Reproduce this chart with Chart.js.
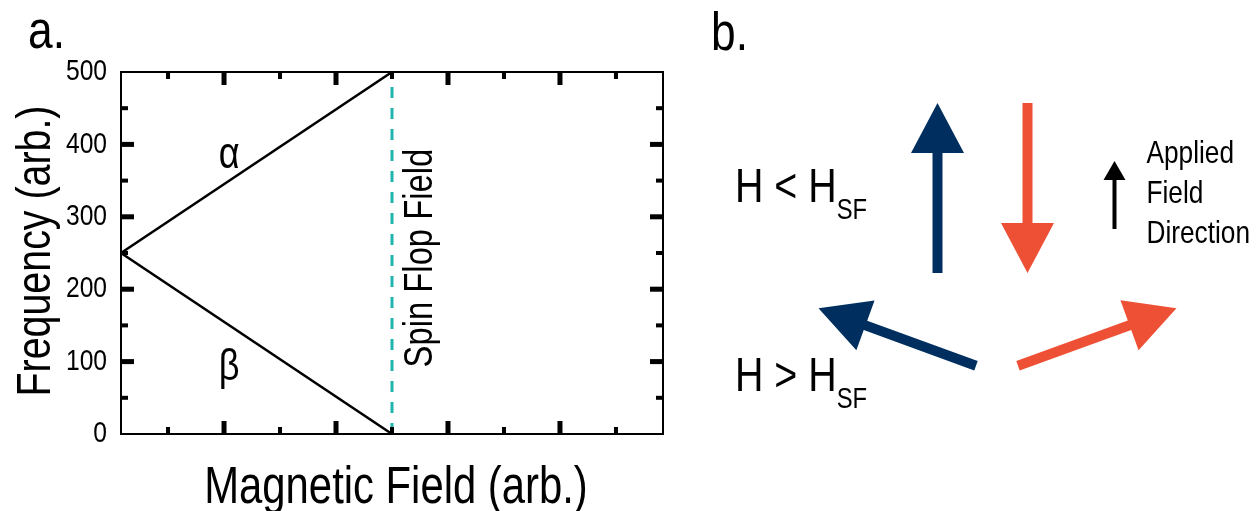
<!DOCTYPE html>
<html>
<head>
<meta charset="utf-8">
<script src="https://cdn.jsdelivr.net/npm/chart.js@4.4.1/dist/chart.umd.min.js"></script>
<style>
  html, body { margin: 0; padding: 0; background: #ffffff; }
  #wrap { position: relative; width: 1257px; height: 511px; overflow: hidden; background: #ffffff; }
  #spectrum { position: absolute; left: 0; top: 0; }
  #spins { position: absolute; left: 700px; top: 0; }
</style>
</head>
<body>
<div id="wrap">
  <canvas id="spectrum" width="700" height="511"></canvas>
  <canvas id="spins" width="557" height="511"></canvas>
</div>
<script>
// ---- Panel a: resonance branches up to the spin-flop field ----
const fieldValues = [0.08, 2.5];          // magnetic field (arb.)
const alphaValues = [250, 500];           // α branch frequency (arb.)
const betaValues = [250, 0];              // β branch frequency (arb.)
const spinFlopField = 2.5;
const fieldRange = [0.08, 4.92];
const frequencyRange = [0, 500];
const frequencyTickStep = 100;
const frequencyMajorTicks = [100, 200, 300, 400];
const frequencyMinorTicks = [50, 150, 250, 350, 450];
const fieldMajorTicks = [1, 2, 3, 4];
const fieldMinorTicks = [0.5, 1.5, 2.5, 3.5, 4.5];

// ---- Panel b: sublattice moments, diagram units [tailX, tailY, tipX, tipY] ----
const lowFieldUp = [4.35, 4.95, 4.35, 9.2];
const lowFieldDown = [6.15, 9.2, 6.15, 4.95];
const highFieldLeft = [5.12, 2.63, 1.97, 4.07];
const highFieldRight = [5.96, 2.63, 9.13, 4.07];
const appliedFieldArrow = [7.89, 6.05, 7.89, 7.75];

const FONT = '"Liberation Sans", Arial, "Helvetica Neue", sans-serif';
const NARROW = 0.82;                      // condensed lettering
const NAVY = '#002f5f';
const ORANGE = '#ee5035';
const TEAL = '#1fb5ae';

const toPoints = (xs, ys) => xs.map((x, i) => ({ x: x, y: ys[i] }));

// Draws condensed text; rotation is applied before the horizontal squeeze
function drawText(ctx, text, x, y, size, opt = {}) {
  ctx.save();
  ctx.translate(x, y);
  if (opt.rotate) ctx.rotate(opt.rotate);
  ctx.scale(NARROW, 1);
  ctx.font = `${size}px ${FONT}`;
  ctx.textAlign = opt.align || 'left';
  ctx.textBaseline = opt.baseline || 'alphabetic';
  ctx.fillStyle = opt.color || '#000';
  ctx.fillText(text, 0, 0);
  const w = ctx.measureText(text).width * NARROW;
  ctx.restore();
  return w;
}

// Closed frame with inward major/minor ticks on all four sides
const framePlugin = {
  id: 'frame',
  afterDatasetsDraw(chart) {
    const { ctx, chartArea: a, scales } = chart;
    const xs = scales.x, ys = scales.y;
    ctx.save();
    ctx.fillStyle = '#000';
    const major = { len: 13, w: 5 }, minor = { len: 7, w: 4 };
    const vTick = (v, t) => {
      const p = xs.getPixelForValue(v);
      ctx.fillRect(p - t.w / 2, a.bottom - t.len, t.w, t.len);
      ctx.fillRect(p - t.w / 2, a.top, t.w, t.len);
    };
    const hTick = (v, t) => {
      const p = ys.getPixelForValue(v);
      ctx.fillRect(a.left, p - t.w / 2, t.len, t.w);
      ctx.fillRect(a.right - t.len, p - t.w / 2, t.len, t.w);
    };
    fieldMajorTicks.forEach(v => vTick(v, major));
    fieldMinorTicks.forEach(v => vTick(v, minor));
    frequencyMajorTicks.forEach(v => hTick(v, major));
    frequencyMinorTicks.forEach(v => hTick(v, minor));
    ctx.strokeStyle = '#000';
    ctx.lineWidth = 2;
    ctx.strokeRect(a.left, a.top, a.right - a.left, a.bottom - a.top);
    ctx.restore();
  }
};

// Tick labels, axis titles, branch names, spin-flop annotation and panel letter
const spectrumLabels = {
  id: 'spectrumLabels',
  afterDraw(chart, args, opts) {
    const { ctx, chartArea: a, scales } = chart;
    const xs = scales.x, ys = scales.y;
    ys.ticks.forEach(t => {
      drawText(ctx, String(t.value), a.left - 14, ys.getPixelForValue(t.value), 30,
               { align: 'right', baseline: 'middle' });
    });
    drawText(ctx, opts.yTitle, 50, (a.top + a.bottom) / 2 - 2, 48,
             { align: 'center', rotate: -Math.PI / 2 });
    drawText(ctx, opts.xTitle, (a.left + a.right) / 2 + 4, 503, 51, { align: 'center' });
    opts.branches.forEach(b => {
      drawText(ctx, b.text, xs.getPixelForValue(b.x), ys.getPixelForValue(b.y), 44, { align: 'center' });
    });
    drawText(ctx, 'Spin Flop Field', xs.getPixelForValue(spinFlopField) + 40, ys.getPixelForValue(243), 40,
             { align: 'center', rotate: -Math.PI / 2 });
    drawText(ctx, 'a.', 28, 48, 54);
  }
};

new Chart(document.getElementById('spectrum'), {
  type: 'scatter',
  data: {
    datasets: [
      { label: 'α', data: toPoints(fieldValues, alphaValues), showLine: true,
        borderColor: '#000', borderWidth: 2.5, pointRadius: 0 },
      { label: 'β', data: toPoints(fieldValues, betaValues), showLine: true,
        borderColor: '#000', borderWidth: 2.5, pointRadius: 0 },
      { label: 'Spin Flop Field',
        data: toPoints([spinFlopField, spinFlopField], frequencyRange), showLine: true,
        borderColor: TEAL, borderWidth: 3, borderDash: [11, 10], pointRadius: 0 }
    ]
  },
  options: {
    responsive: false,
    animation: false,
    events: [],
    layout: { padding: { top: 72, right: 37, bottom: 0, left: 0 } },
    plugins: {
      legend: { display: false },
      tooltip: { enabled: false },
      spectrumLabels: {
        xTitle: 'Magnetic Field (arb.)',
        yTitle: 'Frequency (arb.)',
        branches: [
          { text: 'α', x: 1.045, y: 367 },
          { text: 'β', x: 1.045, y: 74 }
        ]
      }
    },
    scales: {
      x: {
        type: 'linear', min: fieldRange[0], max: fieldRange[1],
        grid: { display: false, drawTicks: false },
        border: { display: false },
        ticks: { display: false },
        afterFit(scale) { scale.height = 77; }
      },
      y: {
        type: 'linear', min: frequencyRange[0], max: frequencyRange[1],
        grid: { display: false, drawTicks: false },
        border: { display: false },
        ticks: { display: false, stepSize: frequencyTickStep },
        afterFit(scale) { scale.width = 121; }
      }
    }
  },
  plugins: [framePlugin, spectrumLabels]
});

// Filled arrows: shaft plus triangular head, from each dataset's tail → tip
const arrowPlugin = {
  id: 'arrows',
  afterDatasetsDraw(chart) {
    const ctx = chart.ctx;
    chart.data.datasets.forEach((ds, i) => {
      const pts = chart.getDatasetMeta(i).data;
      if (pts.length < 2) return;
      const x0 = pts[0].x, y0 = pts[0].y, x1 = pts[1].x, y1 = pts[1].y;
      const len = Math.hypot(x1 - x0, y1 - y0);
      const ux = (x1 - x0) / len, uy = (y1 - y0) / len;
      const nx = -uy, ny = ux;
      const { shaft, headLength, headWidth } = ds.arrow;
      const bx = x1 - ux * headLength, by = y1 - uy * headLength;
      ctx.save();
      ctx.fillStyle = ds.borderColor;
      ctx.beginPath();
      ctx.moveTo(x0 + nx * shaft / 2, y0 + ny * shaft / 2);
      ctx.lineTo(bx + nx * shaft / 2, by + ny * shaft / 2);
      ctx.lineTo(bx + nx * headWidth / 2, by + ny * headWidth / 2);
      ctx.lineTo(x1, y1);
      ctx.lineTo(bx - nx * headWidth / 2, by - ny * headWidth / 2);
      ctx.lineTo(bx - nx * shaft / 2, by - ny * shaft / 2);
      ctx.lineTo(x0 - nx * shaft / 2, y0 - ny * shaft / 2);
      ctx.closePath();
      ctx.fill();
      ctx.restore();
    });
  }
};

// Regime labels, field-direction caption and panel letter
const spinLabels = {
  id: 'spinLabels',
  afterDraw(chart, args, opts) {
    const { ctx, scales } = chart;
    const xs = scales.x, ys = scales.y;
    opts.regimes.forEach(r => {
      const px = xs.getPixelForValue(r.x), py = ys.getPixelForValue(r.y);
      const w = drawText(ctx, r.text, px, py, 48);
      drawText(ctx, r.sub, px + w, py + 17, 29);
    });
    const cx = xs.getPixelForValue(opts.caption.x);
    let cy = ys.getPixelForValue(opts.caption.y);
    opts.caption.lines.forEach(line => {
      drawText(ctx, line, cx, cy, 32);
      cy += 40;
    });
    drawText(ctx, 'b.', 11, 50, 54);
  }
};

const arrowSet = (vals, color, style) => ({
  data: [{ x: vals[0], y: vals[1] }, { x: vals[2], y: vals[3] }],
  borderColor: color, backgroundColor: color, pointRadius: 0, showLine: false,
  arrow: style
});
const bigArrow = { shaft: 10, headLength: 50, headWidth: 53 };
const smallArrow = { shaft: 4, headLength: 19, headWidth: 22 };

new Chart(document.getElementById('spins'), {
  type: 'scatter',
  data: {
    datasets: [
      arrowSet(lowFieldUp, NAVY, bigArrow),
      arrowSet(lowFieldDown, ORANGE, bigArrow),
      arrowSet(highFieldLeft, NAVY, bigArrow),
      arrowSet(highFieldRight, ORANGE, bigArrow),
      arrowSet(appliedFieldArrow, '#000', smallArrow)
    ]
  },
  options: {
    responsive: false,
    animation: false,
    events: [],
    layout: { padding: { top: 71, right: 37, bottom: 40, left: 20 } },
    plugins: {
      legend: { display: false },
      tooltip: { enabled: false },
      spinLabels: {
        regimes: [
          { text: 'H < H', sub: 'SF', x: 0.3, y: 6.725 },
          { text: 'H > H', sub: 'SF', x: 0.3, y: 2.0 }
        ],
        caption: { lines: ['Applied', 'Field', 'Direction'], x: 8.53, y: 7.69 }
      }
    },
    scales: {
      x: { type: 'linear', min: 0, max: 10, display: false },
      y: { type: 'linear', min: 0, max: 10, display: false }
    }
  },
  plugins: [arrowPlugin, spinLabels]
});
</script>
</body>
</html>
